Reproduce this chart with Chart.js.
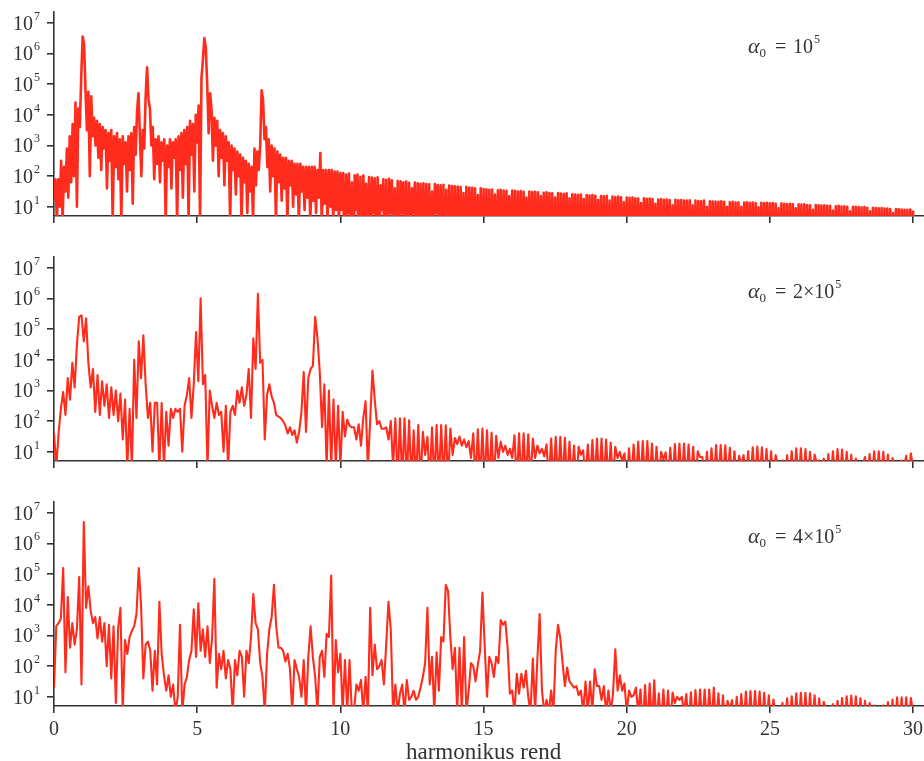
<!DOCTYPE html>
<html>
<head>
<meta charset="utf-8">
<title>harmonikus rend</title>
<script src="https://cdn.jsdelivr.net/npm/chart.js@4.4.1/dist/chart.umd.min.js"></script>
<style>
    html, body { margin: 0; padding: 0; background: #fff; }
    #wrap { position: relative; width: 924px; height: 761px; overflow: hidden; }
    canvas { position: absolute; left: 0; }
</style>
</head>
<body>
<div id="wrap">
    <canvas id="panel-1" width="924" height="230" style="top:0px"></canvas>
    <canvas id="panel-2" width="924" height="230" style="top:245px"></canvas>
    <canvas id="panel-3" width="924" height="271" style="top:490px"></canvas>
</div>
<script>
// =========================
// DATOS (exponentes log10)
// =========================
const xTicks = [0, 5, 10, 15, 20, 25, 30]
const yTickExps = [1, 2, 3, 4, 5, 6, 7]
const alphaMantissa = ["", "2×", "4×"]
const alphaExp = 5
const xTitle = "harmonikus rend"

const step1 = 0.05
const step2 = 0.08
const step3 = 0.08

// alpha0 = 1e5  (los minimos del peine caen muy por debajo del eje)
const logAmp1 = [
    1.2,1.9,0.5,1.9,1.0,2.5,0.5,2.3,1.5,2.9,1.3,3.3,1.8,3.7,2.0,4.4,1.0,4.2,3.6,5.2,
    6.55,6.3,4.8,3.5,4.75,2.0,4.6,3.3,3.9,3.0,3.8,2.6,3.7,2.2,3.6,2.9,3.5,1.6,3.4,2.5,
    3.5,0.5,3.3,2.3,3.4,1.9,3.2,0.5,3.3,2.4,3.1,1.5,3.3,2.2,3.4,1.1,3.6,2.7,4.1,4.7,
    3.3,2.0,3.5,2.9,4.6,5.55,4.5,4.2,3.0,3.6,1.9,3.2,2.4,3.3,1.8,3.1,2.5,3.2,0.5,3.0,
    2.3,3.2,1.6,3.1,2.6,3.2,0.5,3.3,2.2,3.4,1.3,3.5,2.4,3.6,0.6,3.8,2.7,3.7,1.5,4.0,
    3.1,4.3,0.5,5.2,5.8,6.5,6.2,5.0,3.4,4.7,4.2,2.5,3.9,3.0,3.8,2.0,3.5,2.6,3.4,1.7,
    3.3,2.5,3.1,0.5,3.0,2.2,2.9,1.4,2.8,2.0,2.7,0.5,2.6,1.8,2.5,0.8,2.4,1.5,2.3,0.5,
    2.9,1.7,2.8,2.2,3.0,4.8,4.5,3.2,3.6,2.3,3.2,1.5,3.0,2.0,2.9,0.5,2.8,1.8,2.7,1.2,
    2.6,1.6,2.6,0.5,2.5,1.7,2.5,1.0,2.4,1.4,2.4,0.5,2.4,1.5,2.3,0.9,2.3,1.3,2.3,0.5,
    2.3,1.2,2.3,0.8,2.2,1.3,2.75,0.5,2.2,1.1,2.2,0.6,2.2,1.0,2.2,0.5,2.15,0.9,2.15,0.5,
    2.1,
    0.9,2.1,-2,2.05,0.8,2.08,-2,1.8,-2,2.03,0.9,2.05,-2,1.98,-2,2.02,0.7,1.75,-2,1.97,
    -2,1.95,0.8,1.93,-2,1.96,-2,1.7,0.9,1.9,-2,1.88,-2,1.91,0.8,1.86,-2,1.6,-2,1.84,
    -2,1.83,0.8,1.8,-2,1.82,-2,1.78,-2,1.6,0.8,1.79,-2,1.77,-2,1.75,-2,1.77,-2,1.74,
    -2,1.73,-2,1.5,-2,1.74,0.8,1.71,-2,1.7,-2,1.72,-2,1.55,-2,1.69,-2,1.68,-2,1.67,
    -2,1.66,-2,1.64,-2,1.45,-2,1.65,-2,1.63,-2,1.62,-2,1.6,-2,1.38,-2,1.6,-2,1.58,
    -2,1.57,-2,1.55,-2,1.56,-2,1.4,-2,1.54,-2,1.55,-2,1.53,-2,1.52,-2,1.35,-2,1.53,
    -2,1.52,-2,1.5,-2,1.51,-2,1.49,-2,1.3,-2,1.5,-2,1.48,-2,1.49,-2,1.47,-2,1.35,
    -2,1.46,-2,1.47,-2,1.45,-2,1.44,-2,1.3,-2,1.45,-2,1.43,-2,1.42,-2,1.44,-2,1.28,
    -2,1.41,-2,1.4,-2,1.39,-2,1.4,-2,1.25,-2,1.38,-2,1.37,-2,1.38,-2,1.36,-2,1.22,
    -2,1.35,-2,1.34,-2,1.36,-2,1.2,-2,1.33,-2,1.32,-2,1.33,-2,1.31,-2,1.15,-2,1.3,
    -2,1.29,-2,1.3,-2,1.28,-2,1.27,-2,1.12,-2,1.28,-2,1.26,-2,1.27,-2,1.25,-2,1.1,
    -2,1.24,-2,1.25,-2,1.23,-2,1.24,-2,1.22,-2,1.05,-2,1.23,-2,1.21,-2,1.22,-2,1.2,
    -2,1.2,-2,1.21,-2,1.05,-2,1.2,-2,1.19,-2,1.18,-2,1.2,-2,1.0,-2,1.18,-2,1.17,
    -2,1.17,-2,1.16,-2,1.18,-2,1.16,-2,1.0,-2,1.15,-2,1.16,-2,1.14,-2,1.15,-2,1.0,
    -2,1.14,-2,1.15,-2,1.13,-2,1.14,-2,1.12,-2,0.98,-2,1.13,-2,1.12,-2,1.13,-2,1.11,
    -2,1.12,-2,1.1,-2,0.95,-2,1.11,-2,1.1,-2,1.09,-2,1.1,-2,1.08,-2,0.95,-2,1.08,
    -2,1.07,-2,1.08,-2,1.06,-2,1.05,-2,0.9,-2,1.06,-2,1.05,-2,1.04,-2,1.05,-2,1.03,
    -2,1.03,-2,0.88,-2,1.02,-2,1.03,-2,1.01,-2,1.02,-2,1.0,-2,0.85,-2,1.0,-2,1.0,
    -2,0.99,-2,0.98,-2,0.99,-2,0.97,-2,0.85,-2,0.97,-2,0.96,-2,0.95,-2,0.96,-2,0.94,
    -2,0.94,-2,0.93,-2,0.8,-2,0.93,-2,0.92,-2,0.91,-2,0.9,-2,0.9,-2,0.91,-2,0.88
]

// alpha0 = 2e5
const logAmp2 = [
    1.6,0.5,1.6,2.4,2.95,2.2,3.4,2.7,3.9,3.1,
    4.5,5.4,5.45,4.6,5.35,3.9,3.1,3.7,2.3,3.5,
    2.2,3.3,2.5,3.2,2.1,3.1,2.2,3.0,2.0,2.9,
    1.4,2.7,0.5,2.4,0.5,4.0,2.1,4.6,3.4,4.8,
    3.2,2.1,2.6,1.0,2.6,2.6,0.5,2.6,0.5,2.3,
    1.2,2.4,2.1,2.4,2.3,2.4,1.0,2.5,2.85,3.4,
    2.1,3.2,4.9,3.3,6.0,3.2,3.5,0.5,3.0,2.5,
    2.1,2.6,2.2,2.3,1.0,2.5,0.5,2.3,2.5,2.2,
    3.0,2.6,3.1,2.5,2.85,3.7,2.1,4.7,3.7,6.15,
    3.9,4.0,1.4,2.85,3.2,2.8,2.6,2.2,2.15,2.1,
    2.0,1.85,1.6,1.8,1.55,1.7,1.3,1.65,2.3,3.6,
    1.65,3.4,3.7,3.8,5.4,4.7,3.6,1.8,3.2,0.5,
    3.0,0.5,2.7,0.5,2.5,0.5,2.3,1.5,2.05,1.85,
    1.8,1.8,1.4,1.9,1.2,2.1,2.65,0.5,2.0,3.65,
    2.7,1.9,2.0,1.75,1.75,1.8,1.4,2.0,0.5,2.09,
    0,2.09,0,2.09,0,2.03,0,1.7,0,1.87,
    0,1.65,0.9,1.49,0,1.8,0,1.87,0,1.87,
    0,1.86,0,1.76,0.9,1.45,1.25,1.5,1.2,1.4,
    1.15,1.35,0.8,1.6,0,1.73,0,1.76,0,1.7,
    0,1.63,0,1.52,0.8,1.33,1.0,1.2,0.9,1.1,
    0.8,1.54,0,1.6,0,1.6,0,1.57,0,1.43,
    0.8,1.2,0.95,1.1,0.85,1.24,0,1.43,0,1.49,
    0,1.49,0,1.46,0,1.33,0,1.2,0,1.16,
    0.9,1.05,0,1.24,0,1.38,0,1.43,0,1.43,
    0,1.4,0,1.3,0,1.16,0.8,1.0,0.7,0.95,
    0,1.11,0,1.24,0,1.33,0,1.35,0,1.35,
    0,1.27,0,1.16,0,1.0,0.75,0.98,0,1.13,
    0,1.25,0,1.27,0,1.27,0,1.24,0,1.16,
    0,1.02,0.83,0.83,0,1.0,0,1.11,0,1.22,
    0,1.22,0,1.21,0,1.13,0,1.02,0,0.87,
    0.6,0.89,0,1.02,0,1.15,0,1.17,0,1.15,
    0,1.09,0,1.02,0,0.89,0.6,0.5,0.72,0,
    0.89,0,1.02,0,1.11,0,1.11,0,1.09,0,
    1.0,0,0.91,0.6,0.72,0.5,0.78,0,0.93,0,
    1.02,0,1.09,0,1.07,0,1.0,0,0.91,0,
    0.78,0.5,0.5,0.6,0.83,0,0.93,0,1.02,0,
    1.02,0,1.0,0,0.91,0,0.8,0.5,0.5,0.6,
    0.72,0.5,0.87,0,0.95,0.5
]

// alpha0 = 4e5
const logAmp3 = [
    1.3,3.3,3.4,3.55,5.2,1.8,4.25,2.6,3.4,2.7,
    3.2,4.9,1.4,6.7,3.9,4.6,3.8,3.4,3.6,2.9,
    3.6,2.8,3.4,2.0,3.35,1.6,3.3,0.8,3.25,3.9,
    0.5,2.85,2.4,2.95,3.15,3.3,3.7,5.2,4.0,1.6,
    2.7,2.8,2.5,1.2,2.5,1.4,4.1,2.4,1.7,1.2,
    1.7,1.0,1.4,0.5,1.0,3.35,0.5,1.4,1.65,2.2,
    2.5,3.85,2.3,4.05,2.5,3.2,2.3,3.3,2.1,2.9,
    4.85,1.3,2.4,1.9,2.5,1.6,2.2,1.9,0.5,2.2,
    1.7,2.5,2.3,1.0,2.5,2.1,2.95,4.35,3.4,3.2,
    2.1,1.65,0.5,2.4,3.2,3.6,4.65,3.3,2.6,2.6,
    2.5,2.15,2.4,1.9,0.5,2.2,1.9,1.65,1.0,2.2,
    0.5,2.3,3.3,2.3,1.65,0.5,2.3,2.5,1.65,3.05,
    2.95,4.95,0.5,2.85,1.8,2.4,0.5,2.2,0.5,2.2,
    0.5,0.6,1.4,1.2,1.55,0.5,1.65,0.5,3.9,1.7,
    2.7,1.9,2.0,2.2,1.4,2.7,4.1,3.2,0.5,1.4,
    0.5,1.1,1.4,0.5,1.55,0.9,1.0,1.2,0.9,1.0,
    1.3,1.65,2.1,3.9,1.4,2.3,0.5,2.45,1.2,2.95,
    2.8,4.65,4.45,2.95,1.9,2.6,0.5,2.6,0.5,2.95,
    0.5,1.2,2.1,2.0,1.5,2.05,2.5,4.4,2.65,1.0,
    2.3,2.1,1.65,2.3,2.1,3.5,3.35,3.45,2.6,1.1,
    1.2,0.5,1.75,1.1,1.75,1.3,1.85,1.0,0.5,2.25,
    0.5,2.25,3.7,1.2,0.5,0.9,0.5,1.2,0.5,2.5,
    3.35,2.9,2.1,1.35,1.95,1.5,1.4,1.3,1.35,1.05,
    1.2,0.5,1.5,0.5,1.5,0.5,1.9,1.35,1.35,0.9,
    1.35,0.5,1.2,0.5,1.1,2.55,1.2,1.7,1.2,1.43,
    0.5,1.2,1.0,1.05,1.3,0.5,1.24,0,1.38,0,
    1.43,0,1.54,0,1.11,0,1.24,0,1.2,0,
    1.14,0.8,1.0,0.9,1.0,0.5,1.09,0,1.15,0,
    1.22,0,1.24,0,1.24,0,1.24,0,1.3,0,
    1.11,0,1.05,0,0.87,0.6,0.89,0,1.0,0,
    1.09,0,1.17,0,1.19,0,1.19,0,1.17,0,
    1.13,0,1.05,0,0.91,0.5,0.6,0.5,0.8,0,
    0.95,0,1.02,0,1.11,0,1.13,0,1.13,0,
    1.11,0,1.05,0,0.95,0,0.84,0.5,0.5,0.6,
    0.76,0,0.87,0,0.96,0,1.02,0,1.04,0,
    1.02,0,0.95,0,0.87,0,0.8,0.5,0.72,0.5,
    0.6,0.5,0.72,0,0.83,0,0.91,0,0.98,0,
    0.98,0,0.98,0,0.96,0.5
]

// =========================
// ESTILO
// =========================
const FONT = '"Liberation Serif", "DejaVu Serif", serif'
const TEXT = "#333333"
const AXIS = "#333333"
const LINE = "#ff2b1c"
const X_MAX = 30.38
const Y_MIN = Math.pow(10, 0.7)
const Y_MAX = Math.pow(10, 7.35)

Chart.defaults.font.family = FONT

function toPoints(logs, step) {
    return logs.map((v, i) => ({ x: +(i * step).toFixed(3), y: Math.pow(10, v) }))
}

// etiquetas 10^n, alpha0 y titulo del eje
const panelText = {
    id: "panelText",
    afterDraw(chart, args, opts) {
        const ctx = chart.ctx
        const yScale = chart.scales.y
        ctx.save()
        ctx.fillStyle = TEXT
        ctx.textBaseline = "alphabetic"

        yTickExps.forEach(e => {
            const py = yScale.getPixelForValue(Math.pow(10, e))
            ctx.font = `20px ${FONT}`
            ctx.textAlign = "right"
            ctx.fillText("10", 33, py + 7)
            ctx.font = `12px ${FONT}`
            ctx.textAlign = "left"
            ctx.fillText(String(e), 34, py - 3)
        })

        const base = chart.chartArea.top + 41
        ctx.textAlign = "left"
        ctx.font = `italic 22px ${FONT}`
        ctx.fillText("α", 748, base)
        const aw = ctx.measureText("α").width
        ctx.font = `13px ${FONT}`
        ctx.fillText("0", 748 + aw, base + 4)
        ctx.font = `20px ${FONT}`
        ctx.fillText("=", 775, base)
        const main = opts.mantissa + "10"
        ctx.fillText(main, 793, base)
        const mw = ctx.measureText(main).width
        ctx.font = `12px ${FONT}`
        ctx.fillText(String(alphaExp), 793 + mw + 1, base - 10)

        if (opts.title) {
            ctx.font = `23px ${FONT}`
            ctx.textAlign = "center"
            ctx.fillText(xTitle, chart.scales.x.getPixelForValue(15), chart.height - 2)
        }
        ctx.restore()
    }
}

function makePanel(id, logs, step, idx, isLast, lineW) {
    const ctx = document.getElementById(id)
    const axisHeight = ctx.height - 12 - 204

    return new Chart(ctx, {
        type: "line",
        data: {
            datasets: [{
                data: toPoints(logs, step),
                borderColor: LINE,
                borderWidth: lineW,
                borderJoinStyle: "round",
                pointRadius: 0,
                tension: 0,
                fill: false
            }]
        },
        options: {
            responsive: false,
            animation: false,
            parsing: false,
            normalized: true,
            events: [],
            layout: { padding: { top: 12, left: 0, right: 0, bottom: 0 } },
            plugins: {
                legend: { display: false },
                tooltip: { enabled: false },
                panelText: { mantissa: alphaMantissa[idx], title: isLast }
            },
            scales: {
                x: {
                    type: "linear",
                    min: 0,
                    max: X_MAX,
                    z: 1,
                    border: { display: true, color: AXIS, width: 1.6 },
                    grid: { display: true, drawOnChartArea: false, drawTicks: true, tickLength: 7, color: AXIS, lineWidth: 1.6 },
                    ticks: { display: isLast, color: TEXT, font: { size: 20, family: FONT }, padding: 5, maxRotation: 0, autoSkip: false },
                    afterBuildTicks: s => { s.ticks = xTicks.map(v => ({ value: v })) },
                    afterFit: s => { s.height = axisHeight; s.paddingLeft = 0; s.paddingRight = 0 }
                },
                y: {
                    type: "logarithmic",
                    min: Y_MIN,
                    max: Y_MAX,
                    z: 1,
                    border: { display: true, color: AXIS, width: 1.6 },
                    grid: { display: true, drawOnChartArea: false, drawTicks: true, tickLength: 7, color: AXIS, lineWidth: 1.6 },
                    ticks: { display: false },
                    afterBuildTicks: s => { s.ticks = yTickExps.map(e => ({ value: Math.pow(10, e) })) },
                    afterFit: s => { s.width = 54; s.paddingTop = 0; s.paddingBottom = 0 }
                }
            }
        },
        plugins: [panelText]
    })
}

makePanel("panel-1", logAmp1, step1, 0, false, 2.6)
makePanel("panel-2", logAmp2, step2, 1, false, 2.1)
makePanel("panel-3", logAmp3, step3, 2, true, 2.1)
</script>
</body>
</html>
